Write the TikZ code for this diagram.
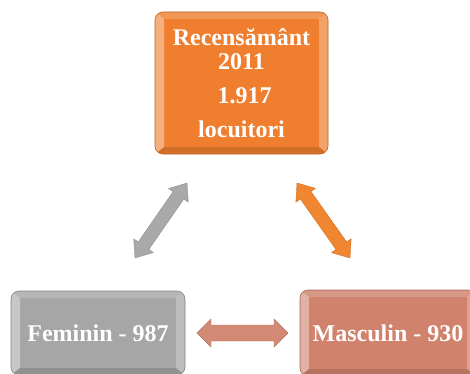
\documentclass[tikz,border=0pt]{standalone}
\usepackage{fontspec}
\setmainfont{Liberation Serif}
\usetikzlibrary{calc}
\definecolor{orangeA}{HTML}{EF7F2F}
\definecolor{grayA}{HTML}{A6A6A6}
\definecolor{salmonA}{HTML}{D0826D}
\definecolor{orangeArr}{HTML}{F0862F}
\definecolor{grayArr}{HTML}{A9A9A9}
\definecolor{salmonArr}{HTML}{D38A74}
\tikzset{
  box/.style={rounded corners=8pt, draw=#1!80!black, line width=0.6pt, fill=#1,
    text=white, font=\bfseries\fontsize{24}{24.5}\selectfont, align=center, inner sep=0pt,
    path picture={
      \coordinate (ppsw) at (path picture bounding box.south west);
      \coordinate (ppnw) at (path picture bounding box.north west);
      \coordinate (ppse) at (path picture bounding box.south east);
      \coordinate (ppne) at (path picture bounding box.north east);
      \fill[sharp corners, white, opacity=.38] (ppsw) -- (ppnw) -- ($(ppnw)+(9,-7)$) -- ($(ppsw)+(9,7)$) -- cycle;
      \fill[sharp corners, white, opacity=.28] (ppse) -- (ppne) -- ($(ppne)+(-9,-7)$) -- ($(ppse)+(-9,7)$) -- cycle;
      \fill[sharp corners, white, opacity=.18] (ppnw) -- (ppne) -- ($(ppne)+(-9,-7)$) -- ($(ppnw)+(9,-7)$) -- cycle;
      \fill[sharp corners, black, opacity=.12] (ppsw) -- (ppse) -- ($(ppse)+(-9,7)$) -- ($(ppsw)+(9,7)$) -- cycle;
    }},
  arrfill/.style={fill=#1, draw=#1!85!black, line width=0.4pt, line join=round}
}
\newcommand\blockarr[6]{%
  \path[arrfill=#6] let \p1=(#1), \p2=(#2),
    \n1={atan2(\y2-\y1,\x2-\x1)}, \n2={veclen(\x2-\x1,\y2-\y1)} in
    [shift={(\x1,\y1)}, rotate=\n1]
    (0,0) -- (#5,#4) -- (#5,#3) -- ({\n2-#5},#3) -- ({\n2-#5},#4) -- (\n2,0)
    -- ({\n2-#5},-#4) -- ({\n2-#5},-#3) -- (#5,-#3) -- (#5,-#4) -- cycle;}
\begin{document}
\begin{tikzpicture}[x=1pt,y=1pt]
\useasboundingbox (0,0) rectangle (470,373);
\fill[white] (0,0) rectangle (470,373);
\clip (0,0) rectangle (470,373);
\node[box=orangeA, minimum width=173pt, minimum height=142pt] (top) at (241.5,290)
  {Recensământ\\2011\\[9pt]\hspace{6pt}1.917\\[10pt]locuitori};
\node[box=grayA, minimum width=174pt, minimum height=84pt] (fem) at (98,40) {Feminin - 987};
\node[box=salmonA, minimum width=176pt, minimum height=86pt] (mas) at (388,40) {Masculin - 930};
\coordinate (ga) at (135,115);
\coordinate (gb) at (187,190);
\coordinate (oa) at (297,190);
\coordinate (ob) at (350,115);
\coordinate (sa) at (197,40);
\coordinate (sb) at (288,40);
\blockarr{ga}{gb}{6.5}{12}{15}{grayArr}
\blockarr{oa}{ob}{6.5}{12}{15}{orangeArr}
\blockarr{sa}{sb}{8}{14}{14}{salmonArr}
\end{tikzpicture}
\end{document}
